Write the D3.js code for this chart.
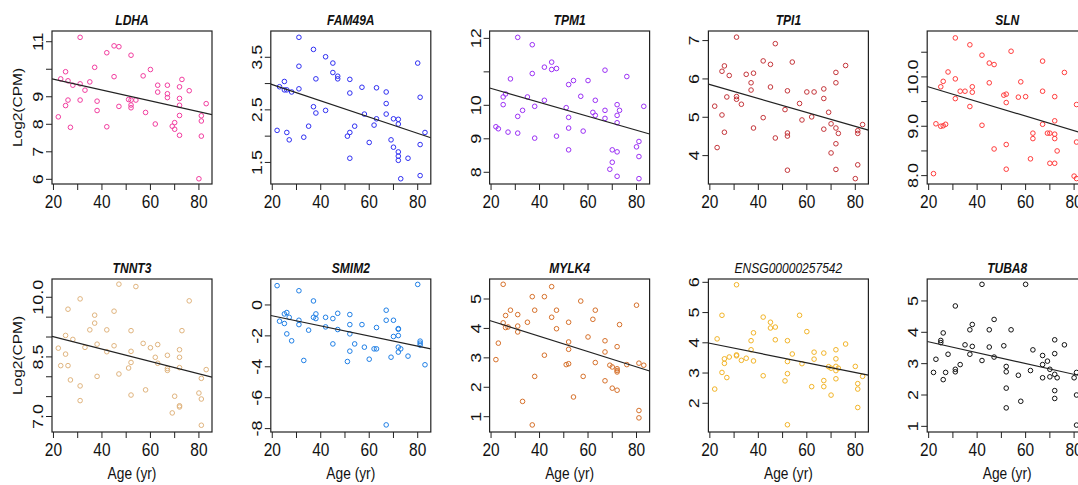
<!DOCTYPE html>
<html>
<head>
<meta charset="utf-8">
<script src="https://cdn.jsdelivr.net/npm/d3@7"></script>
<style>
  body { margin: 0; background: #fff; }
  text { font-family: "Liberation Sans", Arial, sans-serif; fill: #111; }
</style>
</head>
<body>
<svg id="chart" width="1078" height="485"></svg>
<script>
// age (yr) vs Log2(CPM), one array per gene: [age, value]
var LDHA = [[22,8.27],[23,9.65],[25,9.91],[25,8.68],[26,9.58],[26,8.88],[27,7.89],[28,9.42],[31,11.16],[31,9.47],[31,8.88],[33,9.24],[35,9.54],[37,10.07],[38,8.84],[38,8.5],[42,10.6],[42,7.91],[45,10.85],[45,9.73],[47,10.82],[47,8.65],[51,8.9],[52,10.51],[52,8.88],[52,8.7],[52,8.6],[54,8.88],[57,9.76],[58,8.43],[60,9.99],[62,8.01],[63,9.42],[63,9.17],[67,9.42],[67,9.11],[67,8.97],[69,7.93],[70,8.06],[70,7.82],[72,9.36],[72,8.94],[72,8.69],[72,8.32],[72,7.6],[73,9.63],[76,9.22],[80,6.02],[81,8.31],[81,8.12],[81,7.57],[83,8.75]];
var FAM49A = [[22,2.11],[23,2.94],[25,3.04],[25,2.88],[26,2.07],[26,2.88],[27,1.93],[28,2.84],[31,3.88],[31,3.33],[31,2.9],[33,1.98],[35,2.19],[37,3.65],[37,2.56],[38,3.09],[38,2.44],[42,3.51],[42,2.49],[45,3.39],[45,3.21],[47,3.14],[47,3.09],[51,2.0],[52,2.07],[52,3.08],[52,2.82],[52,1.58],[54,2.19],[57,2.93],[58,2.42],[60,1.88],[62,2.21],[63,2.92],[63,2.33],[67,2.84],[67,2.62],[67,2.42],[69,1.93],[70,2.33],[70,1.79],[72,2.32],[72,2.23],[72,1.7],[72,1.62],[72,1.54],[73,1.19],[76,1.58],[80,3.39],[81,2.74],[81,1.84],[81,1.25],[83,2.07]];
var TPM1 = [[22,9.36],[23,9.3],[25,10.25],[25,10.02],[26,10.34],[27,9.2],[28,10.79],[31,12.03],[31,9.67],[31,9.17],[33,9.85],[35,10.25],[37,11.81],[37,10.95],[38,9.97],[38,9.02],[42,10.15],[42,11.14],[45,11.29],[45,11.07],[47,11.1],[47,9.08],[51,9.93],[52,10.62],[52,9.64],[52,9.32],[52,8.67],[54,10.74],[57,10.27],[58,9.23],[60,10.74],[62,9.79],[63,10.15],[63,9.7],[67,11.05],[67,9.85],[67,9.61],[69,8.09],[70,8.67],[70,8.3],[72,10.02],[72,9.7],[72,9.48],[72,8.61],[72,7.88],[73,9.85],[76,10.86],[80,8.76],[81,8.92],[81,8.47],[81,7.81],[83,9.97]];
var TPI1 = [[22,5.29],[23,4.21],[25,5.06],[25,6.2],[26,6.34],[26,4.61],[27,5.53],[28,6.09],[31,7.09],[31,5.54],[31,5.47],[33,5.34],[35,6.12],[37,5.9],[37,5.71],[38,6.15],[38,4.72],[42,6.47],[42,4.99],[45,6.38],[45,5.79],[47,6.92],[47,4.46],[51,5.2],[52,5.69],[52,4.59],[52,4.51],[52,3.62],[54,6.44],[57,5.36],[58,4.93],[60,5.66],[62,5.01],[63,5.66],[67,5.74],[67,5.49],[67,4.69],[69,5.13],[70,4.83],[70,4.07],[72,6.17],[72,5.9],[72,4.72],[72,4.31],[72,3.64],[73,4.58],[76,6.35],[80,3.4],[81,4.65],[81,4.58],[81,3.76],[83,4.81]];
var SLN = [[22,8.04],[23,9.05],[25,9.8],[25,9.0],[26,9.91],[26,9.01],[27,9.04],[28,10.1],[31,10.79],[31,9.96],[31,9.56],[33,9.71],[35,9.71],[37,10.65],[37,9.4],[38,9.8],[38,9.69],[42,10.44],[42,9.02],[45,10.28],[45,9.88],[47,10.25],[47,8.54],[51,9.63],[52,9.65],[52,9.48],[52,8.63],[52,8.13],[54,10.52],[57,9.59],[58,9.9],[60,9.6],[62,8.34],[63,8.86],[63,8.75],[67,10.32],[67,9.71],[67,9.04],[69,8.86],[70,8.86],[70,8.25],[72,9.6],[72,9.11],[72,8.84],[72,8.75],[72,8.25],[73,8.5],[76,10.09],[80,7.99],[81,9.44],[81,8.68],[81,7.94]];
var TNNT3 = [[22,8.72],[23,8.28],[25,8.57],[25,9.04],[26,9.7],[26,8.28],[27,7.92],[28,8.94],[31,9.96],[31,7.77],[31,7.4],[33,8.74],[35,9.18],[37,9.55],[37,9.35],[38,8.82],[38,8.01],[42,9.18],[42,8.63],[45,9.65],[45,8.78],[47,10.33],[47,8.07],[51,8.22],[52,9.16],[52,8.64],[52,8.36],[52,7.54],[54,10.27],[57,8.84],[58,7.67],[60,8.73],[62,8.49],[63,8.81],[63,8.34],[67,8.54],[67,8.21],[67,8.16],[69,7.09],[70,7.51],[72,8.68],[72,8.49],[72,8.23],[72,7.27],[72,7.24],[73,9.16],[76,9.91],[80,7.59],[81,7.96],[81,7.44],[81,6.78],[83,8.18]];
var SMIM2 = [[22,1.25],[23,-1.05],[25,-0.58],[25,-1.2],[26,-0.49],[26,-1.87],[27,-0.8],[28,-2.32],[31,0.92],[31,-0.99],[31,-1.27],[33,-3.59],[35,-1.63],[37,0.26],[37,-0.8],[38,-0.58],[38,-0.88],[42,-0.8],[42,-1.42],[45,-0.88],[45,-2.52],[47,-0.54],[47,-1.59],[51,-3.66],[52,-0.62],[52,-1.27],[52,-1.87],[52,-2.99],[54,-2.52],[57,-1.27],[58,-2.73],[60,-3.51],[62,-2.84],[63,-2.84],[63,-1.46],[67,-0.34],[67,-0.99],[67,-7.76],[69,-3.38],[70,-0.99],[70,-2.04],[72,-1.53],[72,-1.57],[72,-1.98],[72,-2.73],[72,-3.05],[73,-2.84],[76,-3.31],[80,1.33],[81,-2.34],[81,-2.47],[81,-2.6],[83,-3.87]];
var MYLK4 = [[22,2.94],[23,3.5],[25,5.5],[25,4.19],[26,4.44],[26,4.03],[27,4.05],[28,4.62],[31,4.47],[31,4.08],[31,3.88],[33,1.52],[35,4.21],[37,5.08],[37,0.72],[38,4.62],[38,2.37],[42,5.08],[42,3.09],[45,5.42],[45,4.38],[47,4.62],[47,3.99],[51,2.77],[52,4.21],[52,3.54],[52,3.29],[52,2.8],[54,1.67],[57,4.93],[58,2.37],[60,3.71],[62,4.31],[63,4.62],[63,2.84],[67,3.58],[67,3.2],[67,2.22],[69,2.75],[70,2.69],[70,1.97],[72,3.38],[72,2.63],[72,2.57],[72,2.52],[72,1.9],[73,4.13],[76,2.77],[80,4.79],[81,2.82],[81,1.21],[81,0.96],[83,2.75]];
var ENSG = [[22,2.47],[23,4.13],[25,4.91],[25,3.02],[26,3.47],[26,3.32],[27,2.85],[28,3.53],[31,5.92],[31,3.6],[31,3.57],[33,3.42],[35,3.49],[37,4.07],[37,3.77],[38,4.33],[38,3.4],[42,4.85],[42,2.91],[45,4.68],[45,4.49],[47,4.52],[47,4.1],[51,2.74],[52,4.07],[52,3.38],[52,2.98],[52,1.29],[54,3.63],[57,4.91],[58,3.31],[60,4.37],[62,2.55],[63,3.69],[63,3.46],[67,3.66],[67,2.75],[67,2.55],[69,3.21],[70,3.16],[70,2.27],[72,3.77],[72,3.47],[72,3.22],[72,3.08],[72,2.81],[73,3.16],[76,3.96],[80,3.22],[81,2.65],[81,2.47],[81,1.86],[83,2.89]];
var TUBA8 = [[22,2.72],[23,3.14],[25,3.74],[25,3.67],[26,2.49],[26,3.98],[27,2.72],[28,3.3],[31,4.84],[31,2.82],[31,2.74],[33,2.97],[35,3.6],[37,4.08],[37,3.3],[38,4.25],[38,3.55],[42,5.53],[42,3.1],[45,4.08],[45,3.53],[47,4.41],[47,3.21],[51,3.57],[52,2.91],[52,2.74],[52,2.22],[52,1.59],[54,4.08],[57,2.63],[58,1.8],[60,5.53],[62,2.78],[63,3.44],[67,3.26],[67,2.97],[67,2.55],[69,3.08],[70,2.82],[70,2.58],[72,3.76],[72,3.32],[72,2.66],[72,2.14],[72,1.89],[73,2.55],[76,3.6],[80,2.55],[81,2.72],[81,2.0],[81,1.04]];

var genes = ["LDHA","FAM49A","TPM1","TPI1","SLN","TNNT3","SMIM2","MYLK4","ENSG00000257542","TUBA8"];
var geneData = [LDHA, FAM49A, TPM1, TPI1, SLN, TNNT3, SMIM2, MYLK4, ENSG, TUBA8];
var yDomains = [[5.83,11.39],[1.09,4.0],[7.65,12.22],[3.26,7.25],[7.83,10.93],[6.61,10.46],[-8.22,1.68],[0.48,5.68],[1.05,6.11],[0.82,5.7]];
var yTicks = [[6,7,8,9,10,11],[1.5,2,2.5,3,3.5],[8,9,10,11,12],[4,5,6,7],[8,8.5,9,9.5,10,10.5],
              [7,7.5,8,8.5,9,9.5,10],[-8,-6,-4,-2,0],[1,2,3,4,5],[2,3,4,5,6],[1,2,3,4,5]];
// R drops tick labels that would overlap
var yLabels = [["6","7","8","9","","11"],["1.5","","2.5","","3.5"],["8","9","10","","12"],["4","5","6","7"],["8.0","","9.0","","10.0",""],
               ["7.0","","","8.5","","","10.0"],["-8","-6","-4","-2","0"],["1","2","3","4","5"],["2","3","4","5","6"],["1","2","3","4","5"]];
var xTicks = [20,30,40,50,60,70,80];
var xLabels = ["20","","40","","60","","80"];
var xDomain = [19.4, 85.4];
var colors = ["#f23d9f","#2f2ff2","#9b30f5","#c4353a","#ff3c3c","#e0b47e","#1f7fe6","#d6702a","#f2b428","#111111"];

var svg = d3.select("#chart");
var boxW = 160, boxH = 153;
var colX = 52, colStep = 218.8;
var rowY = [31, 279];
var squeeze = 0.86; // the picture's text is narrow

function txt(g, x, y, s, size, rot) {
  return g.append("text")
    .attr("transform", "translate(" + x + "," + y + ") scale(" + squeeze + ",1)" + (rot ? " rotate(-90)" : ""))
    .attr("text-anchor", "middle")
    .style("font-size", size + "px")
    .text(s);
}

var x = d3.scaleLinear().domain(xDomain).range([0, boxW]);

genes.forEach(function(name, i) {
  var row = Math.floor(i / 5), col = i % 5;
  var g = svg.append("g").attr("transform", "translate(" + (colX + col * colStep) + "," + rowY[row] + ")");
  var y = d3.scaleLinear().domain(yDomains[i]).range([boxH, 0]);
  var pts = geneData[i];

  g.append("clipPath").attr("id", "clip" + i)
    .append("rect").attr("width", boxW).attr("height", boxH);

  // points
  g.append("g").selectAll("circle")
    .data(pts).enter().append("circle")
    .attr("cx", function(d) { return x(d[0]); })
    .attr("cy", function(d) { return y(d[1]); })
    .attr("r", 2.3)
    .style("fill", "none")
    .style("stroke", colors[i])
    .style("stroke-width", 1);

  // least squares line (abline)
  var mx = d3.mean(pts, function(d) { return d[0]; }), my = d3.mean(pts, function(d) { return d[1]; });
  var sxy = d3.sum(pts, function(d) { return (d[0] - mx) * (d[1] - my); });
  var sxx = d3.sum(pts, function(d) { return (d[0] - mx) * (d[0] - mx); });
  var b = sxy / sxx, a = my - b * mx;
  g.append("line")
    .attr("clip-path", "url(#clip" + i + ")")
    .attr("x1", x(xDomain[0])).attr("y1", y(a + b * xDomain[0]))
    .attr("x2", x(xDomain[1])).attr("y2", y(a + b * xDomain[1]))
    .style("stroke", "#222").style("stroke-width", 1.2);

  g.append("rect").attr("width", boxW).attr("height", boxH)
    .style("fill", "none").style("stroke", "#222").style("stroke-width", 1.2);

  // x ticks
  xTicks.forEach(function(t, k) {
    g.append("line").attr("x1", x(t)).attr("x2", x(t)).attr("y1", boxH).attr("y2", boxH + 6)
      .style("stroke", "#222");
    if (xLabels[k]) txt(g, x(t), boxH + 24, xLabels[k], 18);
  });

  // y ticks
  yTicks[i].forEach(function(t, k) {
    g.append("line").attr("x1", 0).attr("x2", -6).attr("y1", y(t)).attr("y2", y(t))
      .style("stroke", "#222");
    if (yLabels[i][k]) txt(g, -9, y(t), yLabels[i][k], 18, true);
  });

  var title = txt(g, boxW / 2, -6, name, 14)
    .style("font-style", "italic");
  if (name.indexOf("ENSG") < 0) title.style("font-weight", "bold");

  if (col == 0) txt(g, -30, boxH / 2, "Log2(CPM)", 15.5, true);
  if (row == 1) txt(g, boxW / 2, boxH + 47, "Age (yr)", 16);
});
</script>
</body>
</html>
